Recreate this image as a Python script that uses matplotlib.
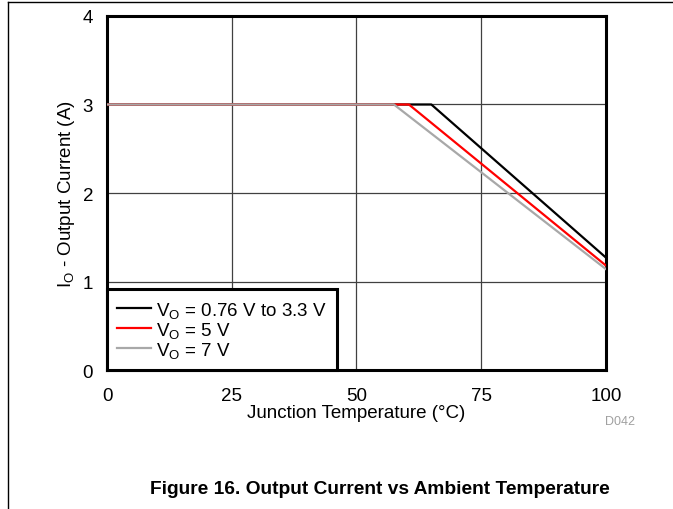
import matplotlib
matplotlib.use("Agg")
import matplotlib.pyplot as plt
from matplotlib.lines import Line2D

plt.rcParams['font.family'] = ['Liberation Sans', 'DejaVu Sans']
plt.rcParams['mathtext.fontset'] = 'custom'
plt.rcParams['mathtext.rm'] = 'Liberation Sans'
plt.rcParams['mathtext.it'] = 'Liberation Sans'

# Data
temp_black = [0, 65, 100]
cur_black = [3.0, 3.0, 1.27]
temp_red = [0, 60.5, 100]
cur_red = [3.0, 3.0, 1.18]
temp_gray = [0, 57.5, 100]
cur_gray = [3.0, 3.0, 1.14]
labels = ["V$_\\mathrm{O}$ = 0.76 V to 3.3 V", "V$_\\mathrm{O}$ = 5 V", "V$_\\mathrm{O}$ = 7 V"]
xticks = [0, 25, 50, 75, 100]
yticks = [0, 1, 2, 3, 4]

FS = 13.5
fig = plt.figure(figsize=(6.73, 5.10), dpi=100)
ax = fig.add_axes([0.159, 0.2725, 0.9004 - 0.159, 0.9667 - 0.2725])

ax.plot(temp_black, cur_black, color='black', lw=1.6, zorder=3)
ax.plot(temp_red, cur_red, color='#ff0000', lw=1.6, zorder=4)
ax.plot(temp_gray, cur_gray, color='#a8a8a8', lw=1.6, zorder=5)

ax.set_xlim(0, 100)
ax.set_ylim(0, 4)
ax.set_xticks(xticks)
ax.set_yticks(yticks)
ax.tick_params(length=0, labelsize=FS)
ax.tick_params(axis='x', pad=12)
ax.tick_params(axis='y', pad=10)
ax.grid(True, color='#404040', lw=0.9)
for s in ax.spines.values():
    s.set_linewidth(2.2)
ax.set_xlabel("Junction Temperature (°C)", fontsize=FS, labelpad=0)
ax.set_ylabel("I$_\\mathrm{O}$ - Output Current (A)", fontsize=FS, labelpad=4)

handles = [Line2D([], [], color='black', lw=1.6),
           Line2D([], [], color='#ff0000', lw=1.6),
           Line2D([], [], color='#a8a8a8', lw=1.6)]
leg = ax.legend(handles, labels, loc='lower left', bbox_to_anchor=(0, 0),
                borderaxespad=0, fancybox=False, framealpha=1, edgecolor='black',
                fontsize=FS, handlelength=1.8, labelspacing=0.0, borderpad=0.55,
                handletextpad=0.25)
leg.get_frame().set_linewidth(2.2)
leg.set_zorder(10)

fig.text(620 / 673, 1 - 422 / 510, "D042", color='#a0a0a0', fontsize=9, ha='center', va='center')
fig.text(380 / 673, 1 - 490 / 510, "Figure 16. Output Current vs Ambient Temperature",
         fontsize=13.8, fontweight='bold', ha='center', va='center')

# page frame lines
fig.add_artist(Line2D([8 / 673, 8 / 673], [0, 1 - 3 / 510], transform=fig.transFigure, color='black', lw=1))
fig.add_artist(Line2D([8 / 673, 1], [1 - 3 / 510, 1 - 3 / 510], transform=fig.transFigure, color='black', lw=1))

fig.savefig("out.png", dpi=100)
